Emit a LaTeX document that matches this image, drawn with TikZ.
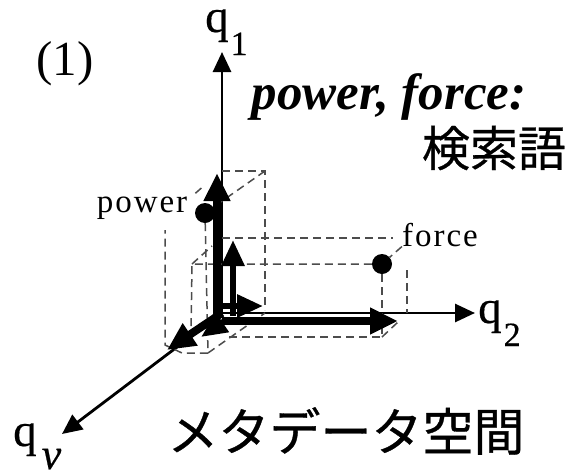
\documentclass[tikz,border=0pt]{standalone}
\usepackage{fontspec}
\setmainfont{Liberation Serif}
\newfontfamily\cjkfont[FakeBold=0.6]{Noto Sans CJK JP}
\newfontfamily\axisfont[FakeBold=0.4]{Liberation Serif}
\usetikzlibrary{arrows.meta}
\newcommand{\axisname}[1]{q\kern2pt\raisebox{-23pt}{\fontsize{34}{34}\selectfont #1}}
\tikzset{
  axis/.style={-{Triangle[length=20pt,width=18pt]}, line width=2.8pt},
  vecbig/.style={-{Triangle[length=28pt,width=25pt]}, line width=8pt},
  vecsmall/.style={-{Triangle[length=26pt,width=22pt]}, line width=6pt},
  guide/.style={dash pattern=on 8pt off 5pt, line width=1.5pt, draw=black!70},
  axlabel/.style={font=\axisfont\fontsize{47}{47}\selectfont, inner sep=0pt, anchor=base west},
  termlabel/.style={font=\fontsize{33}{33}\selectfont\addfontfeature{LetterSpace=6}, inner sep=0pt, anchor=base},
  dot/.style={circle, fill=black, inner sep=0pt, minimum size=20pt},
}

\begin{document}
\begin{tikzpicture}[x=1pt,y=-1pt]
    \useasboundingbox (0,0) rectangle (570,469);
    \coordinate (o) at (222,313);
    \node[axlabel] (qone) at (205,32) {\axisname{1}};
    \node[axlabel] (qtwo) at (478,323) {\axisname{2}};
    \node[axlabel] (qnu) at (13,446) {\axisname{\fontsize{44}{44}\selectfont\kern3pt\itshape ν}};
    \node[font=\fontsize{49}{49}\selectfont, inner sep=0pt] (case) at (65,64) {(1)};
    \node[font=\fontsize{51}{51}\selectfont\bfseries\itshape, inner sep=0pt] (terms) at (389,97) {power, force:};
    \node[font=\cjkfont\fontsize{48}{48}\selectfont, inner sep=0pt] (kensaku) at (494,148) {検索語};
    \node[font=\cjkfont\fontsize{51}{51}\selectfont, inner sep=0pt] (space) at (346,431) {メタデータ空間};
    \node[termlabel] (power) at (142,212) {power};
    \node[termlabel] (force) at (440,246) {force};
    \node[dot] (pdot) at (205,213) {};
    \node[dot] (fdot) at (382,264) {};
    % axes
    \draw[axis] (o) -- (222,52);
    \draw[axis] (o) -- (475,313);
    \draw[axis] (o) -- (62,434);
    % power box
    \coordinate (ptop) at (222,171);
    \coordinate (pcorner) at (265,171);
    \draw[guide] (ptop) -- (pcorner) -- (265,310);
    \draw[guide] (pcorner) -- (pdot);
    \draw[guide] (power.north east) ++(8,-3) -- ++(8,-7);
    \draw[guide] (pdot) -- (208,353) -- (182,353) -- (165,345) -- (165,230);
    \draw[guide] (208,353) -- (265,313);
    % force box
    \coordinate (ftop) at (222,238);
    \coordinate (fcorner) at (393,238);
    \draw[guide] (ftop) -- (fcorner);
    \draw[guide] (force.south west) -- (fdot);
    \draw[guide] (fdot) -- (192,264) -- (191,335);
    \draw[guide] (192,264) -- (212,246);
    \draw[guide] (fdot) -- (382,337) -- (225,337);
    \draw[guide] (382,337) -- (398,322);
    \draw[guide] (407,270) -- (407,313);
    % query vectors
    \draw[vecbig] (217,316) -- (217,173);
    \draw[vecsmall] (233,316) -- (233,240);
    \draw[vecsmall] (221,306) -- (263,306);
    \draw[vecbig] (222,321) -- (398,321);
    \draw[vecbig] (222,313) -- (167,350);
    \draw[vecsmall] (226,320) -- (201,337);
  \end{tikzpicture}
\end{document}
